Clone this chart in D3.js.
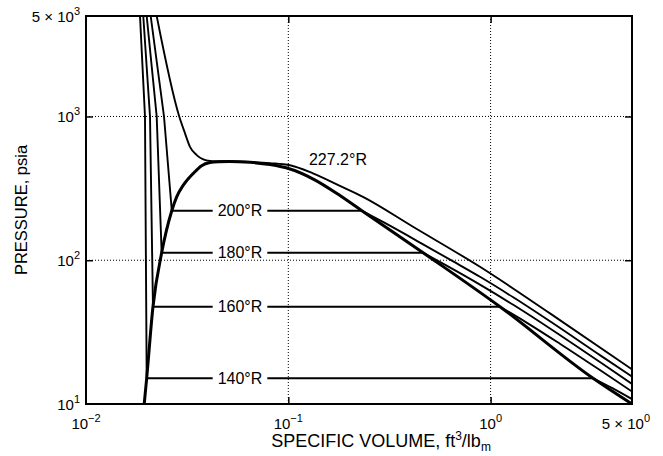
<!DOCTYPE html>
<html>
<head>
<meta charset="utf-8">
<script src="https://cdn.jsdelivr.net/npm/d3@7"></script>
<style>
  html, body { margin: 0; padding: 0; background: #fff; }
  svg { display: block; font-family: "Liberation Sans", Arial, Helvetica, sans-serif; }
</style>
</head>
<body>
<svg id="chart" width="663" height="456"></svg>
<script>
// ---------- axis ticks ----------
const xTickValues = [0.01, 0.1, 1, 5];
const xTickBase   = ["10", "10", "10", "5 × 10"];
const xTickExp    = ["−2", "−1", "0", "0"];
const yTickValues = [10, 100, 1000, 5000];
const yTickBase   = ["10", "10", "10", "5 × 10"];
const yTickExp    = ["1", "2", "3", "3"];
const gridX = [0.1, 1];
const gridY = [100, 1000];

// ---------- saturation dome (v in ft3/lbm, p in psia) ----------
const domeLiquid = [[0.0194, 10], [0.01995, 15.1], [0.02143, 47.5], [0.02366, 112.7],
                    [0.02655, 221], [0.02807, 276], [0.03027, 333], [0.0339, 402],
                    [0.0373, 455], [0.041, 478], [0.0455, 485], [0.0509, 487]];
const domeVapor  = [[0.0509, 487], [0.0647, 480], [0.0812, 463], [0.102, 431],
                    [0.1329, 367], [0.180, 282], [0.231, 221], [0.464, 112.7],
                    [1.113, 47.5], [3.21, 15.1], [5.0, 10]];

// ---------- subcritical isotherms ----------
const isothermNames = ["140°R", "160°R", "180°R", "200°R"];
const satPressure   = [15.1, 47.5, 112.7, 221];
const satLiquidV    = [0.01995, 0.02143, 0.02366, 0.02655];
const satVaporV     = [3.21, 1.113, 0.464, 0.231];

const liquid140 = [[0.01849, 5000], [0.01957, 1000], [0.01995, 15.1]];
const liquid160 = [[0.01919, 5000], [0.02072, 1000], [0.02143, 47.5]];
const liquid180 = [[0.01995, 5000], [0.02236, 1000], [0.02366, 112.7]];
const liquid200 = [[0.02088, 5000], [0.0243, 1000], [0.02655, 221]];

const vapor140 = [[3.21, 15.1], [4.0, 12.88], [5.0, 10.8]];
const vapor160 = [[1.113, 47.5], [1.5, 37.0], [2.2, 26.27], [3.5, 17.09], [5.0, 12.2]];
const vapor180 = [[0.464, 112.7], [0.6, 92.5], [0.886, 67.7], [1.3, 48.8], [2.0, 33.0],
                  [3.5, 19.43], [5.0, 13.8]];
const vapor200 = [[0.231, 221], [0.3, 181.7], [0.45, 132.2], [0.65, 98.5], [0.886, 76.7],
                  [1.3, 55.0], [2.0, 37.0], [3.5, 21.7], [5.0, 15.5]];

// ---------- critical isotherm 227.2°R ----------
const criticalName = "227.2°R";
const critical227 = [[0.02236, 5000], [0.0289, 1000], [0.03087, 763], [0.03266, 615],
                     [0.03525, 539], [0.038, 503], [0.041, 491], [0.0455, 488.5],
                     [0.0509, 487], [0.0647, 483], [0.0812, 474], [0.102, 458],
                     [0.1324, 402], [0.180, 329], [0.234, 276], [0.4135, 171],
                     [0.886, 90], [1.966, 42.7], [5.0, 17.4]];

// label anchors (data coordinates)
const isoLabelV = 0.0577;
const critLabelV = 0.176, critLabelP = 500;

// ---------- layout ----------
const W = 663, H = 456;
const margin = { left: 86, top: 16, right: 31, bottom: 52 };
const iw = W - margin.left - margin.right;
const ih = H - margin.top - margin.bottom;

const svg = d3.select("#chart");
const g = svg.append("g").attr("transform", `translate(${margin.left},${margin.top})`);

const x = d3.scaleLog().domain([0.01, 5]).range([0, iw]);
const y = d3.scaleLog().domain([10, 5000]).range([ih, 0]);

svg.append("defs").append("clipPath").attr("id", "plotClip")
  .append("rect").attr("width", iw).attr("height", ih);

// dotted grid
g.append("g").selectAll("line").data(gridX).join("line")
  .attr("x1", d => x(d)).attr("x2", d => x(d)).attr("y1", 0).attr("y2", ih)
  .attr("stroke", "#000").attr("stroke-width", 1).attr("stroke-dasharray", "1,2");
g.append("g").selectAll("line").data(gridY).join("line")
  .attr("y1", d => y(d)).attr("y2", d => y(d)).attr("x1", 0).attr("x2", iw)
  .attr("stroke", "#000").attr("stroke-width", 1).attr("stroke-dasharray", "1,2");

// inward tick marks on all four sides
const tickLen = 7;
function styleAxis(sel) {
  sel.select(".domain").remove();
  sel.selectAll(".tick line").attr("stroke", "#000").attr("stroke-width", 1.5);
  sel.selectAll(".tick text").remove();
}
g.append("g").attr("transform", `translate(0,${ih})`)
  .call(d3.axisBottom(x).tickValues(gridX).tickSize(-tickLen).tickFormat("")).call(styleAxis);
g.append("g")
  .call(d3.axisTop(x).tickValues(gridX).tickSize(-tickLen).tickFormat("")).call(styleAxis);
g.append("g")
  .call(d3.axisLeft(y).tickValues(gridY).tickSize(-tickLen).tickFormat("")).call(styleAxis);
g.append("g").attr("transform", `translate(${iw},0)`)
  .call(d3.axisRight(y).tickValues(gridY).tickSize(-tickLen).tickFormat("")).call(styleAxis);

// curves
const plot = g.append("g").attr("clip-path", "url(#plotClip)");
const smooth = d3.line().x(d => x(d[0])).y(d => y(d[1])).curve(d3.curveMonotoneX);
const straight = d3.line().x(d => x(d[0])).y(d => y(d[1]));

const thin = 1.9, thick = 3;

[liquid140, liquid160, liquid180, liquid200].forEach(pts => {
  plot.append("path").attr("d", straight(pts))
    .attr("fill", "none").attr("stroke", "#000").attr("stroke-width", thin);
});
[vapor140, vapor160, vapor180, vapor200].forEach(pts => {
  plot.append("path").attr("d", smooth(pts))
    .attr("fill", "none").attr("stroke", "#000").attr("stroke-width", thin);
});
plot.append("path").attr("d", smooth(critical227))
  .attr("fill", "none").attr("stroke", "#000").attr("stroke-width", thin);

// two-phase horizontal segments
isothermNames.forEach((name, i) => {
  plot.append("line")
    .attr("x1", x(satLiquidV[i])).attr("x2", x(satVaporV[i]))
    .attr("y1", y(satPressure[i])).attr("y2", y(satPressure[i]))
    .attr("stroke", "#000").attr("stroke-width", thin);
});

// dome
plot.append("path").attr("d", smooth(domeLiquid.concat(domeVapor.slice(1))))
  .attr("fill", "none").attr("stroke", "#000").attr("stroke-width", thick)
  .attr("stroke-linejoin", "round");

// isotherm labels with a white gap in the line
isothermNames.forEach((name, i) => {
  const lg = g.append("g");
  const bg = lg.append("rect").attr("fill", "#fff");
  const t = lg.append("text")
    .attr("x", x(isoLabelV)).attr("y", y(satPressure[i]) + 5.5)
    .attr("text-anchor", "middle").attr("font-size", 16).attr("fill", "#000")
    .text(name);
  const w = t.node().getComputedTextLength();
  bg.attr("x", x(isoLabelV) - w / 2 - 5).attr("width", w + 10)
    .attr("y", y(satPressure[i]) - 4).attr("height", 8);
});
g.append("text")
  .attr("x", x(critLabelV)).attr("y", y(critLabelP) + 5.5)
  .attr("text-anchor", "middle").attr("font-size", 16).attr("fill", "#000")
  .text(criticalName);

// frame
g.append("rect").attr("width", iw).attr("height", ih)
  .attr("fill", "none").attr("stroke", "#000").attr("stroke-width", 2);

// tick labels with superscripts
const tickFont = 15, supFont = 11;
xTickValues.forEach((v, i) => {
  const last = i === xTickValues.length - 1;
  const t = g.append("text")
    .attr("x", x(v) + (last ? 18 : 0)).attr("y", ih + 25)
    .attr("text-anchor", last ? "end" : "middle")
    .attr("font-size", tickFont).attr("fill", "#000");
  t.append("tspan").text(xTickBase[i]);
  t.append("tspan").attr("font-size", supFont).attr("dy", -7).text(xTickExp[i]);
});
yTickValues.forEach((v, i) => {
  const t = g.append("text")
    .attr("x", -6).attr("y", y(v) + 5.5)
    .attr("text-anchor", "end")
    .attr("font-size", tickFont).attr("fill", "#000");
  t.append("tspan").text(yTickBase[i]);
  t.append("tspan").attr("font-size", supFont).attr("dy", -7).text(yTickExp[i]);
});

// axis titles
const xt = svg.append("text")
  .attr("x", 381).attr("y", 447)
  .attr("text-anchor", "middle").attr("font-size", 18).attr("fill", "#000");
xt.append("tspan").text("SPECIFIC VOLUME, ft");
xt.append("tspan").attr("font-size", 12).attr("dy", -7).text("3");
xt.append("tspan").attr("dy", 7).text("/lb");
xt.append("tspan").attr("font-size", 12).attr("dy", 4).text("m");

svg.append("text")
  .attr("transform", `translate(27,${margin.top + ih / 2}) rotate(-90)`)
  .attr("text-anchor", "middle").attr("font-size", 16.5).attr("fill", "#000")
  .text("PRESSURE, psia");
</script>
</body>
</html>
